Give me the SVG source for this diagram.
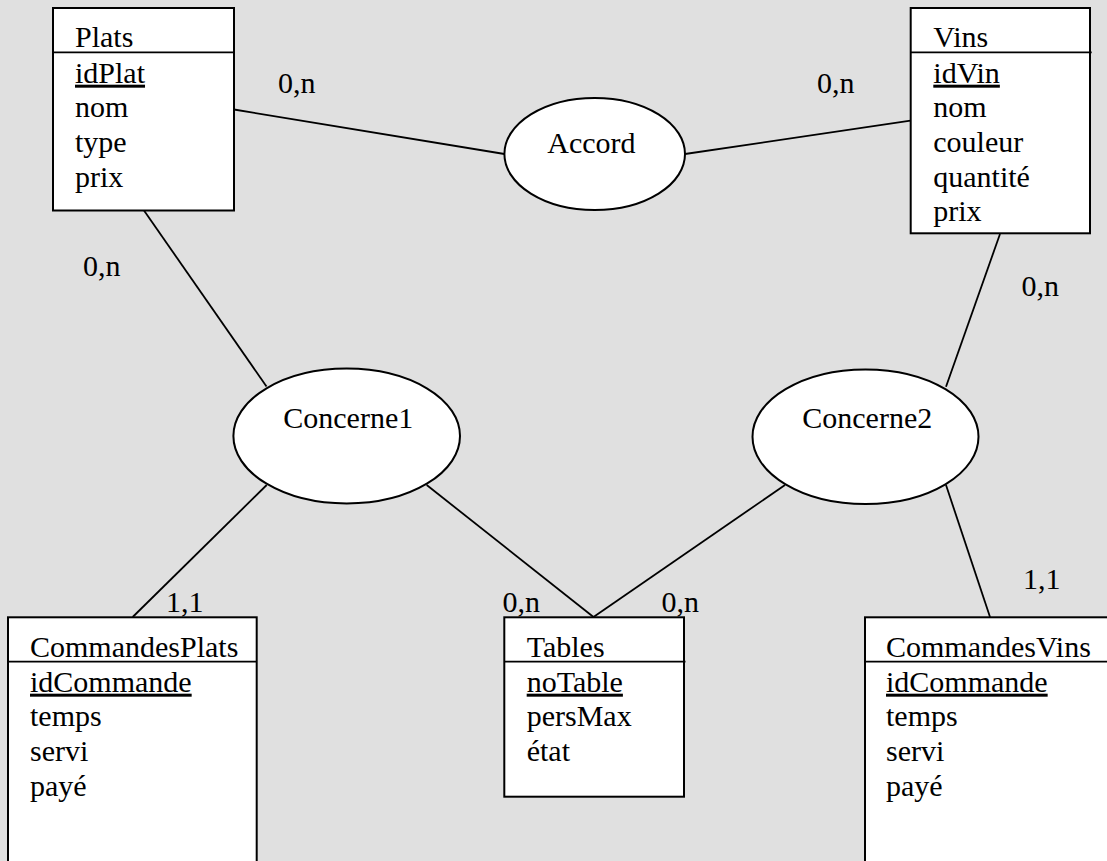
<svg xmlns="http://www.w3.org/2000/svg" width="1107" height="861" viewBox="0 0 1107 861">
<style>
text { font-family: "Liberation Serif", "Times New Roman", serif; font-size: 30px; fill: #000; }
.box { fill: #fff; stroke: #000; stroke-width: 2; }
.sep { stroke: #000; stroke-width: 1.8; }
.ell { fill: #fff; stroke: #000; stroke-width: 2; }
.conn { stroke: #000; stroke-width: 1.8; fill: none; }
.key { text-decoration: underline; }
</style>
<rect x="0" y="0" width="1107" height="861" fill="#e0e0e0"/>

<g id="connectors">
  <line class="conn" x1="234" y1="109.5" x2="504.5" y2="154"/>
  <line class="conn" x1="685" y1="154" x2="910.5" y2="120.7"/>
  <line class="conn" x1="144" y1="210.5" x2="266.5" y2="386.5"/>
  <line class="conn" x1="1000" y1="234" x2="946" y2="386.7"/>
  <line class="conn" x1="266.7" y1="485" x2="132.7" y2="617"/>
  <line class="conn" x1="426.7" y1="485" x2="593.5" y2="617"/>
  <line class="conn" x1="785" y1="485" x2="593.5" y2="617"/>
  <line class="conn" x1="946" y1="485" x2="990" y2="617"/>
</g>

<g id="labels">
  <text x="278" y="93">0,n</text>
  <text x="817" y="93">0,n</text>
  <text x="83" y="276">0,n</text>
  <text x="1021.5" y="296">0,n</text>
  <text x="166" y="612">1,1</text>
  <text x="502.5" y="612">0,n</text>
  <text x="661.5" y="612">0,n</text>
  <text x="1023" y="589">1,1</text>
</g>

<g id="Plats">
  <rect class="box" x="53" y="8" width="181" height="202.5"/>
  <line class="sep" x1="53" y1="52.3" x2="234" y2="52.3"/>
  <text x="75" y="47.3">Plats</text>
  <text x="75" y="82.7" class="key">idPlat</text>
  <text x="75" y="117.3">nom</text>
  <text x="75" y="152">type</text>
  <text x="75" y="186.5">prix</text>
</g>

<g id="Vins">
  <rect class="box" x="910.7" y="8" width="179.3" height="225.3"/>
  <line class="sep" x1="910.7" y1="52.3" x2="1091.7" y2="52.3"/>
  <text x="933.3" y="47.3">Vins</text>
  <text x="933.3" y="82.7" class="key">idVin</text>
  <text x="933.3" y="117.3">nom</text>
  <text x="933.3" y="152">couleur</text>
  <text x="933.3" y="186.5">quantité</text>
  <text x="933.3" y="221">prix</text>
</g>

<g id="Accord">
  <ellipse class="ell" cx="594.7" cy="154" rx="90.3" ry="56"/>
  <text x="547.3" y="153.3">Accord</text>
</g>

<g id="Concerne1">
  <ellipse class="ell" cx="346.7" cy="436" rx="113.3" ry="67.5"/>
  <text x="283.3" y="428.3">Concerne1</text>
</g>

<g id="Concerne2">
  <ellipse class="ell" cx="865.5" cy="436.7" rx="113" ry="67.3"/>
  <text x="802.3" y="428.3">Concerne2</text>
</g>

<g id="CommandesPlats">
  <rect class="box" x="8" y="617.3" width="248.7" height="260"/>
  <line class="sep" x1="8" y1="661.7" x2="256.7" y2="661.7"/>
  <text x="30" y="657.3">CommandesPlats</text>
  <text x="30" y="691.7" class="key">idCommande</text>
  <text x="30" y="726.3">temps</text>
  <text x="30" y="761">servi</text>
  <text x="30" y="795.5">payé</text>
</g>

<g id="Tables">
  <rect class="box" x="504.3" y="617.3" width="179.7" height="179.4"/>
  <line class="sep" x1="504.3" y1="661.7" x2="685.5" y2="661.7"/>
  <text x="526.7" y="657.3">Tables</text>
  <text x="526.7" y="691.7" class="key">noTable</text>
  <text x="526.7" y="726.3">persMax</text>
  <text x="526.7" y="761">état</text>
</g>

<g id="CommandesVins">
  <rect class="box" x="865" y="617.3" width="260" height="260"/>
  <line class="sep" x1="865" y1="661.7" x2="1107" y2="661.7"/>
  <text x="886" y="657.3">CommandesVins</text>
  <text x="886" y="691.7" class="key">idCommande</text>
  <text x="886" y="726.3">temps</text>
  <text x="886" y="761">servi</text>
  <text x="886" y="795.5">payé</text>
</g>
</svg>
